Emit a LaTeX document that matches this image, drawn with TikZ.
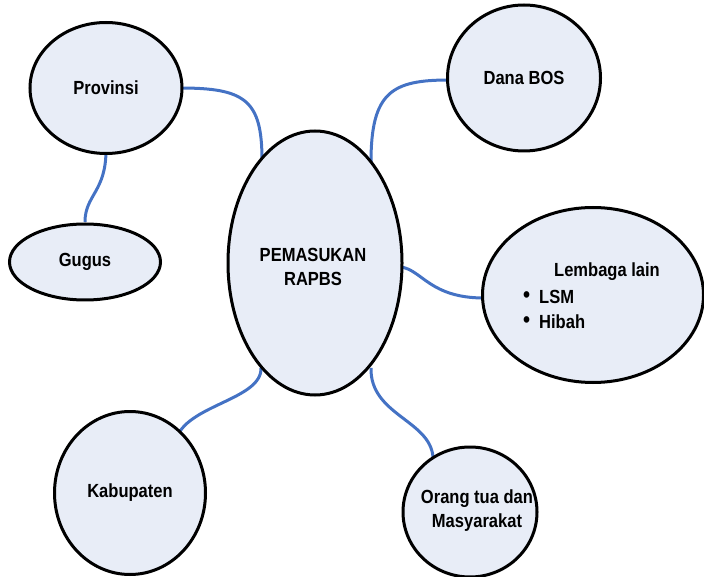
\documentclass[tikz,border=0pt]{standalone}
\usepackage{fontspec}
\setmainfont{Liberation Sans}
\newfontfamily\labelfont[FakeStretch=0.87]{Liberation Sans Bold}
\usetikzlibrary{shapes.geometric}
\definecolor{bubblefill}{HTML}{E8EDF7}
\definecolor{linkblue}{HTML}{4472C4}
\tikzset{
  bubble/.style={ellipse, draw=black, line width=3pt, fill=bubblefill,
    inner sep=0pt, align=center, font=\labelfont\fontsize{19}{25}\selectfont},
  link/.style={draw=linkblue, line width=3pt},
  lbl/.style={inner sep=0pt, font=\labelfont\fontsize{19}{20}\selectfont, anchor=west}
}
\begin{document}
\begin{tikzpicture}[x=1pt,y=-1pt]
\useasboundingbox (0,0) rectangle (704,577);

% connectors first so the bubbles cover their ends
\coordinate (p1) at (180,88);
\coordinate (c1) at (262,160);
\draw[link] (p1) .. controls (245,88) and (262,100) .. (c1);
\coordinate (p2) at (449,80);
\coordinate (c2) at (371,162);
\draw[link] (p2) .. controls (392,80) and (371,92) .. (c2);
\coordinate (p3) at (484,298);
\coordinate (c3) at (401,267);
\draw[link] (c3) .. controls (422,270) and (430,298) .. (p3);
\coordinate (p4) at (176,440);
\coordinate (c4) at (261,368);
\draw[link] (c4) .. controls (262,400) and (185,405) .. (p4);
\coordinate (p5) at (433,457);
\coordinate (c5) at (371,368);
\draw[link] (c5) .. controls (370,415) and (430,420) .. (p5);
\coordinate (g1) at (106,150);
\coordinate (g2) at (85,222);
\draw[link] (g1) .. controls (106,192) and (85,195) .. (g2);

% bubbles
\node[bubble, minimum width=174, minimum height=264] (center) at (315,263) {};
\node[bubble, minimum width=152, minimum height=131] (provinsi) at (106,88) {Provinsi};
\node[bubble, minimum width=151, minimum height=76] (gugus) at (85,262) {Gugus};
\node[bubble, minimum width=153, minimum height=146] (dana) at (524,78) {Dana BOS};
\node[bubble, minimum width=221, minimum height=175] (lembaga) at (593,295) {};
\node[bubble, minimum width=151, minimum height=163] (kabupaten) at (130,493) {Kabupaten};
\node[bubble, minimum width=134, minimum height=130] (orangtua) at (470,512) {};

% multi-line labels
\node[lbl, anchor=center] (centerl1) at (313,255) {PEMASUKAN};
\node[lbl, anchor=center] (centerl2) at (313,279) {RAPBS};
\node[lbl, anchor=center] (orangl1) at (477,499) {Orang tua dan};
\node[lbl, anchor=center] (orangl2) at (477,523) {Masyarakat};

% text inside the Lembaga bubble, with a bulleted list
\node[lbl, anchor=center] (lembagatitle) at (607,272) {Lembaga lain};
\node[lbl] (lsmdot) at (523,297) {\fontsize{23}{20}\selectfont\textbullet};
\node[lbl] (lsm) at (539,297) {LSM};
\node[lbl] (hibahdot) at (523,322) {\fontsize{23}{20}\selectfont\textbullet};
\node[lbl] (hibah) at (539,322) {Hibah};
\end{tikzpicture}
\end{document}
